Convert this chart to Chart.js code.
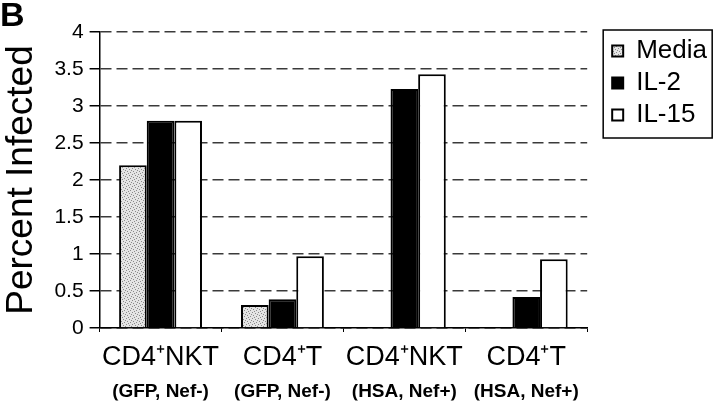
<!DOCTYPE html>
<html>
<head>
<meta charset="utf-8">
<script src="https://cdn.jsdelivr.net/npm/chart.js@4/dist/chart.umd.min.js"></script>
<style>
  html, body { margin: 0; padding: 0; background: #fff; }
  #wrap { position: relative; width: 720px; height: 401px; }
</style>
</head>
<body>
<div id="wrap"><canvas id="infChart" width="720" height="401"></canvas></div>
<script>
var categories = ["CD4\u207ANKT", "CD4\u207AT", "CD4\u207ANKT", "CD4\u207AT"];
var subLabels = ["(GFP, Nef-)", "(GFP, Nef-)", "(HSA, Nef+)", "(HSA, Nef+)"];
var mediaValues = [2.2, 0.31, null, null];
var il2Values = [2.8, 0.39, 3.23, 0.42];
var il15Values = [2.8, 0.97, 3.43, 0.93];
var yTicks = [0, 0.5, 1, 1.5, 2, 2.5, 3, 3.5, 4];

var FONT = "'Liberation Sans', Arial, sans-serif";
var LEGEND_GAP = 19;   // space between plot and legend box

// stippled grey fill for the Media bars
function stipple() {
    var c = document.createElement('canvas');
    c.width = 6; c.height = 6;
    var g = c.getContext('2d');
    g.fillStyle = '#e4e4e4';
    g.fillRect(0, 0, 6, 6);
    g.fillStyle = '#8a8a8a';
    [[0, 0], [3, 1], [1, 3], [4, 4], [5, 2], [2, 5]].forEach(function (p) {
        g.fillRect(p[0], p[1], 1, 1);
    });
    return g.createPattern(c, 'repeat');
}

var extras = {
    id: 'extras',
    afterLayout: function (chart) {
        var lg = chart.legend;
        lg.left += LEGEND_GAP;
        lg.right += LEGEND_GAP;
    },
    afterDraw: function (chart) {
        var ctx = chart.ctx;
        var lg = chart.legend;
        var pad = lg.options.labels.padding;
        var x0 = lg.left + pad - 9;
        var y0 = lg.top + pad - 8;
        ctx.save();
        ctx.strokeStyle = '#000';
        ctx.lineWidth = 1.5;
        ctx.strokeRect(x0, y0, 109, 108);
        ctx.fillStyle = '#000';
        ctx.font = 'bold 34px ' + FONT;
        ctx.textBaseline = 'alphabetic';
        ctx.fillText('B', 0, 26);
        ctx.restore();
    }
};

var ctx = document.getElementById('infChart').getContext('2d');
var infChart = new Chart(ctx, {
    type: 'bar',
    data: {
        labels: categories,
        datasets: [{
            label: 'Media',
            data: mediaValues,
            backgroundColor: stipple(),
            borderColor: '#000',
            borderWidth: 2
        }, {
            label: 'IL-2',
            data: il2Values,
            backgroundColor: '#000',
            borderColor: '#000',
            borderWidth: 2
        }, {
            label: 'IL-15',
            data: il15Values,
            backgroundColor: '#fff',
            borderColor: '#000',
            borderWidth: 2
        }]
    },
    options: {
        responsive: false,
        animation: false,
        layout: { padding: { top: 32, left: 0, right: 22, bottom: 0.4 } },
        datasets: { bar: { categoryPercentage: 0.68, barPercentage: 1.0 } },
        scales: {
            x: {
                grid: { offset: true, drawOnChartArea: false, color: '#000', tickLength: 4 },
                border: { color: '#000', width: 1.5 },
                ticks: { color: '#000', font: { family: FONT, size: 27 }, padding: 9.3, maxRotation: 0 }
            },
            x2: {
                type: 'category',
                position: 'bottom',
                labels: subLabels,
                offset: true,
                grid: { display: false, drawTicks: false },
                border: { display: false },
                ticks: { color: '#000', font: { family: FONT, size: 19, weight: 'bold', lineHeight: 1.0 }, padding: -0.7, maxRotation: 0 }
            },
            y: {
                min: 0,
                max: 4,
                afterBuildTicks: function (axis) {
                    axis.ticks = yTicks.map(function (v) { return { value: v }; });
                },
                grid: {
                    color: function (c) { return c.tick && c.tick.value === 0 ? '#000' : '#3a3a3a'; },
                    lineWidth: 1.5,
                    tickBorderDash: [],
                    tickColor: '#000',
                    tickLength: 10
                },
                border: { color: '#000', width: 1.5, dash: [11, 5] },
                ticks: {
                    color: '#000',
                    font: { family: FONT, size: 21 },
                    padding: 6,
                    callback: function (v) { return String(v); }
                },
                title: {
                    display: true,
                    text: 'Percent Infected',
                    color: '#000',
                    font: { family: FONT, size: 37 },
                    padding: { top: 0, bottom: 4 }
                }
            }
        },
        plugins: {
            legend: {
                position: 'right',
                align: 'start',
                labels: {
                    boxWidth: 11,
                    boxHeight: 11,
                    color: '#000',
                    padding: 6,
                    font: { family: FONT, size: 26 }
                }
            },
            tooltip: { enabled: false }
        }
    },
    plugins: [extras]
});
</script>
</body>
</html>
